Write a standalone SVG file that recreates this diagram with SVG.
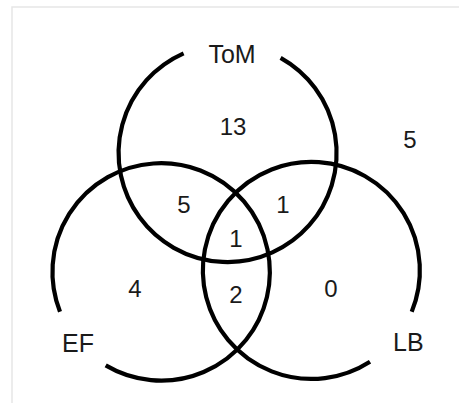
<svg xmlns="http://www.w3.org/2000/svg" width="459" height="403" viewBox="0 0 459 403">
  <style>
    .set { fill: none; stroke: #000; stroke-width: 4.2; }
    .lbl { font-family: "Liberation Sans", Arial, Helvetica, sans-serif; font-size: 24px; fill: #1a1a1a; text-anchor: middle; }
    .name { font-size: 25px; }
    .frame { fill: none; stroke: #e6e6e6; stroke-width: 1.5; }
  </style>
  <rect width="459" height="403" fill="#ffffff"/>
  <path class="frame" d="M 12 403 L 12 7 L 459 7"/>
  <g id="ToM">
    <path class="set" d="M 280.6 57.8 A 109 109 0 1 1 183.6 53.3"/>
    <text class="lbl name" x="232" y="62.5">ToM</text>
  </g>
  <g id="EF">
    <path class="set" d="M 60 311.7 A 108.7 108.7 0 1 1 105.7 365.4"/>
    <text class="lbl name" x="78" y="351.5">EF</text>
  </g>
  <g id="LB">
    <path class="set" d="M 370 361.7 A 108.5 108.5 0 1 1 411.7 311.7"/>
    <text class="lbl name" x="408.3" y="351">LB</text>
  </g>
  <g id="counts">
    <text class="lbl" x="233" y="135">13</text>
    <text class="lbl" x="410" y="148">5</text>
    <text class="lbl" x="184" y="213">5</text>
    <text class="lbl" x="283" y="213">1</text>
    <text class="lbl" x="236" y="246.5">1</text>
    <text class="lbl" x="135" y="296.5">4</text>
    <text class="lbl" x="236" y="303">2</text>
    <text class="lbl" x="331" y="296.5">0</text>
  </g>
</svg>
